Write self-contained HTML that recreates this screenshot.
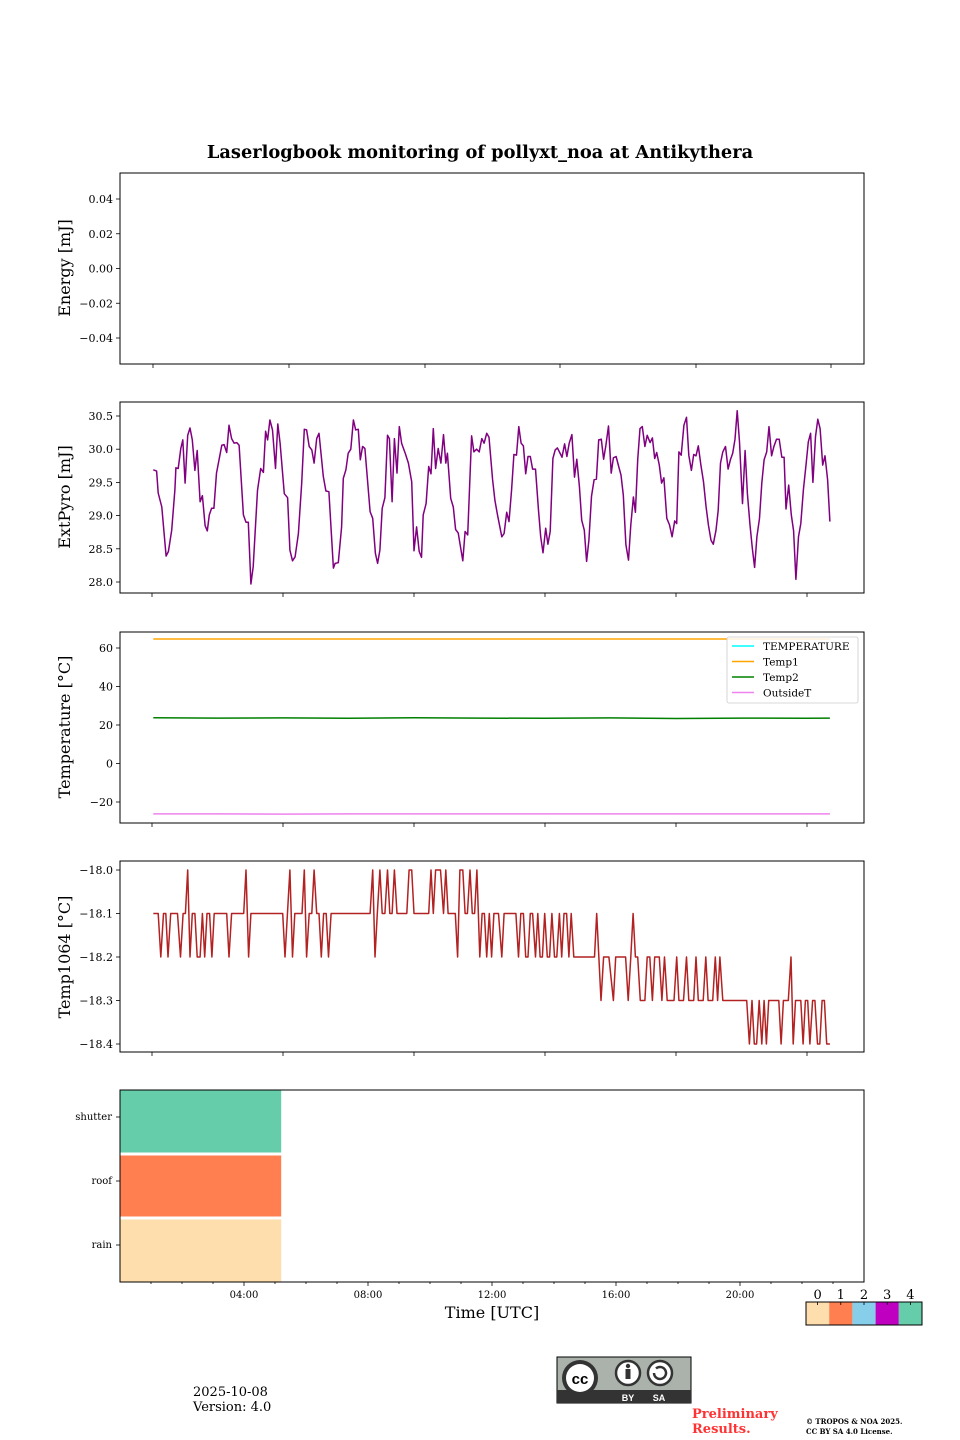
<!DOCTYPE html>
<html><head><meta charset="utf-8">
<style>
html,body{margin:0;padding:0;background:#fff;}
svg{display:block;font-family:"DejaVu Serif","Liberation Serif",serif;}
</style></head>
<body>
<svg id="fig" width="960" height="1440" viewBox="0 0 960 1440" xmlns="http://www.w3.org/2000/svg">
<text x="480" y="158" text-anchor="middle" font-size="17.8" font-weight="bold">Laserlogbook monitoring of pollyxt_noa at Antikythera</text>
<g id="p1"></g>
<g id="p2"></g>
<g id="p3"></g>
<g id="p4"></g>
<g id="p5"></g>
<g id="cbar"></g>
<text x="193" y="1396" font-size="13">2025-10-08</text>
<text x="193" y="1411" font-size="13">Version: 4.0</text>
<g>
<rect x="557" y="1357" width="134" height="46" fill="#aab2ab"/>
<rect x="557" y="1357" width="134" height="46" fill="none" stroke="#000" stroke-width="1"/>
<rect x="557" y="1390" width="134" height="13" fill="#333"/>
<circle cx="580" cy="1378" r="18" fill="#333"/>
<circle cx="580" cy="1378" r="14" fill="#fff"/>
<text x="580" y="1384" text-anchor="middle" font-family="Liberation Sans,sans-serif" font-weight="bold" font-size="15">cc</text>
<circle cx="628" cy="1373" r="12" fill="#fff" stroke="#333" stroke-width="2.5"/>
<circle cx="628" cy="1366" r="2.2" fill="#333"/>
<rect x="625.5" y="1369" width="5" height="10" fill="#333"/>
<circle cx="660" cy="1373" r="12" fill="#fff" stroke="#333" stroke-width="2.5"/>
<path d="M654 1373 a6 6 0 1 0 2 -4.5" fill="none" stroke="#333" stroke-width="2.5"/>
<text x="628" y="1401" text-anchor="middle" font-family="Liberation Sans,sans-serif" font-weight="bold" font-size="9" fill="#fff">BY</text>
<text x="659" y="1401" text-anchor="middle" font-family="Liberation Sans,sans-serif" font-weight="bold" font-size="9" fill="#fff">SA</text>
</g>
<text x="692" y="1418" font-size="13" font-weight="bold" fill="#ff3333">Preliminary</text>
<text x="692" y="1433" font-size="13" font-weight="bold" fill="#ff3333">Results.</text>
<text x="806" y="1424" font-size="7" font-weight="bold">© TROPOS &amp; NOA 2025.</text>
<text x="806" y="1434" font-size="7" font-weight="bold">CC BY SA 4.0 License.</text>
</svg>
<script>
// ---------- data ----------
const pyroT = [0.04,0.14,0.19,0.30,0.43,0.50,0.60,0.70,0.73,0.80,0.88,0.94,1.01,1.09,1.16,1.23,1.31,1.38,1.47,1.54,1.62,1.69,1.75,1.82,1.89,1.97,2.13,2.20,2.28,2.35,2.43,2.51,2.59,2.66,2.79,2.87,2.94,3.02,3.09,3.22,3.32,3.40,3.47,3.53,3.60,3.68,3.77,3.84,3.91,4.04,4.14,4.21,4.29,4.37,4.47,4.57,4.65,4.72,4.80,4.88,4.95,5.03,5.10,5.23,5.31,5.40,5.54,5.59,5.69,5.79,5.84,5.92,5.99,6.07,6.15,6.22,6.30,6.36,6.43,6.50,6.66,6.74,6.82,6.89,6.96,7.03,7.11,7.19,7.25,7.33,7.40,7.48,7.55,7.62,7.73,7.83,7.93,8.00,8.08,8.16,8.23,8.28,8.37,8.45,8.52,8.59,8.66,8.74,8.82,8.90,8.97,9.02,9.12,9.20,9.27,9.35,9.49,9.56,9.64,9.76,9.83,9.91,9.99,10.07,10.14,10.22,10.29,10.40,10.47,10.55,10.68,10.75,10.83,10.90,10.98,11.05,11.13,11.20,11.27,11.34,11.41,11.48,11.55,11.62,11.71,11.80,11.87,11.94,12.02,12.09,12.16,12.24,12.31,12.38,12.45,12.52,12.60,12.67,12.74,12.82,12.90,12.97,13.05,13.12,13.20,13.27,13.34,13.42,13.50,13.57,13.64,13.72,13.79,13.86,13.94,14.02,14.09,14.17,14.25,14.32,14.39,14.47,14.55,14.62,14.70,14.76,14.83,14.90,14.97,15.05,15.12,15.21,15.28,15.35,15.41,15.49,15.56,15.63,15.72,15.80,15.88,15.96,16.02,16.09,16.16,16.24,16.32,16.39,16.47,16.54,16.61,16.68,16.76,16.84,16.92,16.99,17.07,17.14,17.22,17.29,17.36,17.43,17.51,17.59,17.66,17.73,17.80,17.87,17.94,18.03,18.11,18.18,18.26,18.33,18.40,18.47,18.55,18.62,18.69,18.77,18.84,18.92,18.99,19.07,19.15,19.23,19.30,19.36,19.44,19.52,19.59,19.66,19.74,19.81,19.89,19.97,20.04,20.11,20.18,20.26,20.33,20.40,20.48,20.55,20.63,20.70];
const pyroV = [29.69,29.67,29.34,29.13,28.39,28.46,28.78,29.39,29.72,29.71,30.01,30.14,29.49,30.21,30.32,30.14,29.68,29.98,29.21,29.30,28.85,28.77,29.01,29.11,29.11,29.64,30.06,30.07,29.95,30.36,30.16,30.09,30.10,30.06,29.01,28.90,28.90,27.97,28.23,29.38,29.71,29.65,30.27,30.14,30.44,30.29,29.71,30.38,30.09,29.33,29.27,28.48,28.32,28.38,28.73,29.49,30.30,30.29,30.04,29.99,29.79,30.16,30.24,29.59,29.37,29.36,28.21,28.28,28.29,28.83,29.56,29.69,29.94,30.00,30.44,30.29,30.30,29.84,30.04,30.01,29.06,28.96,28.43,28.28,28.48,29.11,29.27,30.21,30.16,29.21,30.16,29.64,30.34,30.09,29.94,29.79,29.51,28.47,28.83,28.46,28.37,29.01,29.18,29.74,29.63,30.31,29.71,30.01,29.79,30.22,29.79,29.94,29.26,29.13,28.79,28.74,28.32,28.76,28.71,30.20,29.96,30.00,29.96,30.16,30.09,30.24,30.18,29.54,29.23,29.01,28.68,28.73,29.05,28.91,29.39,29.92,29.91,30.34,30.09,30.05,29.63,29.89,29.89,29.70,29.70,29.08,28.68,28.44,28.81,28.57,28.76,29.86,29.99,30.02,29.95,29.88,30.08,29.89,30.09,30.22,29.58,29.85,29.44,28.93,28.78,28.31,28.63,29.29,29.54,29.55,30.14,30.15,29.85,30.06,30.35,29.64,29.87,29.89,29.74,29.61,29.31,28.56,28.33,28.86,29.28,29.05,29.84,30.31,30.34,30.04,30.21,30.10,30.17,29.86,29.95,29.76,29.49,29.57,28.96,28.86,28.68,28.92,28.88,29.96,29.91,30.36,30.48,29.91,29.68,29.92,29.90,30.05,29.76,29.51,29.13,28.86,28.63,28.57,28.78,29.08,29.79,29.96,30.04,29.70,29.84,29.94,30.15,30.58,30.11,29.18,29.98,29.33,28.86,28.51,28.22,28.68,28.96,29.49,29.84,29.96,30.34,29.90,30.04,30.15,30.15,29.88,29.88,29.10,29.46,29.01,28.77,28.04,28.68,28.88,29.39,29.76,30.11,30.24,29.50,30.19,30.45,30.31,29.76,29.90,29.54,28.91];

const t1064T = [0.04,0.19,0.27,0.35,0.42,0.49,0.57,0.78,0.87,0.95,1.02,1.09,1.16,1.23,1.31,1.38,1.47,1.54,1.61,1.68,1.76,1.83,1.90,2.28,2.35,2.43,2.80,2.87,2.95,3.02,3.99,4.06,4.21,4.29,4.36,4.58,4.65,4.72,4.80,4.88,4.95,5.03,5.10,5.17,5.24,5.32,5.39,5.47,6.66,6.74,6.81,6.88,6.96,7.03,7.11,7.19,7.26,7.33,7.40,7.48,7.78,7.85,7.93,8.00,8.45,8.52,8.59,8.66,8.81,8.90,8.97,9.04,9.26,9.33,9.40,9.49,9.56,9.63,9.71,9.78,9.85,9.92,10.01,10.08,10.15,10.22,10.30,10.37,10.44,10.58,10.68,10.75,10.98,11.11,11.19,11.26,11.34,11.41,11.48,11.55,11.62,11.71,11.78,11.85,11.92,11.99,12.07,12.14,12.21,12.29,12.36,12.44,12.51,12.58,12.66,12.73,12.80,12.88,12.92,13.51,13.58,13.71,13.79,13.95,14.09,14.16,14.23,14.39,14.46,14.54,14.62,14.69,14.76,14.83,14.91,15.05,15.12,15.20,15.28,15.35,15.49,15.57,15.65,15.73,15.80,15.94,16.02,16.09,16.23,16.32,16.39,16.54,16.61,16.68,16.83,16.91,16.98,17.12,17.20,17.27,17.34,17.43,18.16,18.24,18.32,18.39,18.46,18.54,18.62,18.69,18.76,18.83,19.14,19.21,19.28,19.43,19.51,19.58,19.65,19.81,19.88,19.95,20.02,20.09,20.17,20.24,20.32,20.39,20.46,20.53,20.60,20.70];
const t1064V = [-18.1,-18.1,-18.2,-18.1,-18.1,-18.2,-18.1,-18.1,-18.2,-18.1,-18.1,-18.0,-18.2,-18.1,-18.1,-18.2,-18.2,-18.1,-18.2,-18.1,-18.1,-18.2,-18.1,-18.1,-18.2,-18.1,-18.1,-18.0,-18.2,-18.1,-18.1,-18.2,-18.0,-18.2,-18.1,-18.1,-18.0,-18.2,-18.1,-18.1,-18.0,-18.1,-18.1,-18.2,-18.1,-18.1,-18.2,-18.1,-18.1,-18.0,-18.2,-18.1,-18.0,-18.1,-18.1,-18.0,-18.1,-18.1,-18.0,-18.1,-18.1,-18.0,-18.0,-18.1,-18.1,-18.0,-18.1,-18.0,-18.0,-18.1,-18.0,-18.1,-18.1,-18.2,-18.0,-18.0,-18.1,-18.1,-18.0,-18.1,-18.1,-18.0,-18.2,-18.1,-18.1,-18.2,-18.1,-18.2,-18.1,-18.1,-18.2,-18.1,-18.1,-18.1,-18.2,-18.1,-18.1,-18.2,-18.2,-18.1,-18.1,-18.2,-18.1,-18.2,-18.2,-18.1,-18.2,-18.2,-18.1,-18.2,-18.2,-18.1,-18.2,-18.1,-18.1,-18.2,-18.1,-18.2,-18.2,-18.2,-18.1,-18.3,-18.2,-18.2,-18.3,-18.2,-18.2,-18.2,-18.2,-18.3,-18.2,-18.1,-18.2,-18.2,-18.3,-18.3,-18.2,-18.2,-18.3,-18.2,-18.2,-18.3,-18.2,-18.3,-18.3,-18.3,-18.2,-18.3,-18.3,-18.2,-18.3,-18.3,-18.2,-18.3,-18.3,-18.2,-18.3,-18.3,-18.2,-18.3,-18.2,-18.3,-18.3,-18.4,-18.3,-18.4,-18.4,-18.3,-18.4,-18.3,-18.4,-18.3,-18.3,-18.4,-18.3,-18.3,-18.2,-18.4,-18.3,-18.3,-18.4,-18.3,-18.3,-18.4,-18.3,-18.3,-18.4,-18.4,-18.3,-18.3,-18.4,-18.4];

const tempT = [0.04,2,4,6,8,10,12,14,16,18,20,20.7];
const temp1V = [64.7,64.7,64.7,64.7,64.7,64.7,64.7,64.7,64.7,64.7,64.7,64.7];
const temp2V = [23.8,23.6,23.7,23.5,23.8,23.6,23.5,23.7,23.4,23.6,23.5,23.6];
const outsideV = [-26.2,-26.2,-26.3,-26.2,-26.2,-26.2,-26.2,-26.2,-26.2,-26.2,-26.2,-26.2];

const statusRows = ['rain','roof','shutter'];
const statusStart = [0,0,0];
const statusEnd = [5.2,5.2,5.2];
const statusVal = [0,1,4];
const statusColors = ['#ffdead','#ff7f50','#87ceeb','#c000c0','#66cdaa'];
const statusLabels = ['0','1','2','3','4'];

const energyTicks = [0.04,0.02,0.00,-0.02,-0.04];
const pyroTicks = [30.5,30.0,29.5,29.0,28.5,28.0];
const tempTicks = [60,40,20,0,-20];
const t1064Ticks = [-18.0,-18.1,-18.2,-18.3,-18.4];
const hourTicks = [4,8,12,16,20];
const hourTickLabels = ['04:00','08:00','12:00','16:00','20:00'];

// ---------- helpers ----------
const NS='http://www.w3.org/2000/svg';
function mk(parent,tag,attrs){const e=document.createElementNS(NS,tag);for(const k in attrs)e.setAttribute(k,attrs[k]);parent.appendChild(e);return e;}
const L=120,R=864;
function lin(d0,d1,r0,r1){return v=>r0+(v-d0)*(r1-r0)/(d1-d0);}
const xData = lin(0,1,152,152+32.75);
const xStatus = lin(0,24,120,864);

function frame(g,top,bot,name){
  const r=mk(g,'rect',{x:L,y:top,width:R-L,height:bot-top,fill:'none',stroke:'#000','stroke-width':1});
  
  
}
function yTicks(g,ticks,ys,fmt,name){
  ticks.forEach(t=>{
    const y=ys(t);
    mk(g,'line',{x1:L-4,x2:L,y1:y,y2:y,stroke:'#000','stroke-width':0.8});
    const tx=mk(g,'text',{x:L-7,y:y+4,'text-anchor':'end','font-size':11});
    tx.textContent=fmt(t);
    
    
  });
}
function xTicksBlank(g,bot,xs){xs.forEach(x=>mk(g,'line',{x1:x,x2:x,y1:bot,y2:bot+4,stroke:'#000','stroke-width':0.8}));}
function yLabel(g,text,cy,name){
  const t=mk(g,'text',{x:0,y:0,transform:`translate(70,${cy}) rotate(-90)`,'text-anchor':'middle','font-size':16});
  t.textContent=text;
  
  
}
function line(g,ts,vs,xs,ys,color,name,w){
  const d=ts.map((t,i)=>(i?'L':'M')+xs(t).toFixed(1)+' '+ys(vs[i]).toFixed(1)).join(' ');
  const p=mk(g,'path',{d:d,fill:'none',stroke:color,'stroke-width':w||1.5,'stroke-linejoin':'round'});
  
  
}
const dataTickX=[0,4,8,12,16,20].map(xData);

(function(){
  const g=document.getElementById('p1');const top=173,bot=364;
  const ys=lin(0.04,-0.04,199,338);
  frame(g,top,bot,'energy');
  yTicks(g,energyTicks,ys,v=>v.toFixed(2).replace('-','\u2212'),'energy');
  xTicksBlank(g,bot,[153,289,425,560,696,831]);
  yLabel(g,'Energy [mJ]',268,'energy-y-axis-title');
})();

(function(){
  const g=document.getElementById('p2');const top=402,bot=593;
  const ys=lin(30.5,28.0,416,582);
  line(g,pyroT,pyroV,xData,ys,'#800080','extpyro-line',1.5);
  frame(g,top,bot,'extpyro');
  yTicks(g,pyroTicks,ys,v=>v.toFixed(1),'extpyro');
  xTicksBlank(g,bot,dataTickX);
  yLabel(g,'ExtPyro [mJ]',497,'extpyro-y-axis-title');
})();

(function(){
  const g=document.getElementById('p3');const top=632,bot=823;
  const ys=lin(60,-20,648,802);
  line(g,tempT,temp1V,xData,ys,'#ffa500','temp1-line',1.5);
  line(g,tempT,temp2V,xData,ys,'#008000','temp2-line',1.5);
  line(g,tempT,outsideV,xData,ys,'#ee82ee','outside-temp-line',1.5);
  frame(g,top,bot,'temperature');
  yTicks(g,tempTicks,ys,v=>String(v).replace('-','\u2212'),'temperature');
  xTicksBlank(g,bot,dataTickX);
  yLabel(g,'Temperature [°C]',727,'temperature-y-axis-title');
  const lg=mk(g,'g',{});
  
  
  mk(lg,'rect',{x:727,y:637,width:131,height:66,rx:2,fill:'#fff','fill-opacity':0.85,stroke:'#ccc','stroke-width':0.8});
  const items=[['TEMPERATURE','#00ffff'],['Temp1','#ffa500'],['Temp2','#008000'],['OutsideT','#ee82ee']];
  items.forEach((it,i)=>{
    const y=646+i*15.5;
    const e=mk(lg,'g',{});
    
    
    mk(e,'line',{x1:732,x2:754,y1:y,y2:y,stroke:it[1],'stroke-width':1.5});
    const t=mk(e,'text',{x:763,y:y+4,'font-size':10.5});t.textContent=it[0];
  });
})();

(function(){
  const g=document.getElementById('p4');const top=861,bot=1052;
  const ys=lin(-18.0,-18.4,870,1044);
  line(g,t1064T,t1064V,xData,ys,'#b22222','temp1064-line',1.5);
  frame(g,top,bot,'temp1064');
  yTicks(g,t1064Ticks,ys,v=>v.toFixed(1).replace('-','\u2212'),'temp1064');
  xTicksBlank(g,bot,dataTickX);
  yLabel(g,'Temp1064 [°C]',957,'temp1064-y-axis-title');
})();

(function(){
  const g=document.getElementById('p5');const top=1090,bot=1282;
  const rowH=(bot-top)/statusRows.length;
  statusRows.forEach((name,i)=>{
    const y0=bot-(i+1)*rowH;
    const x0=xStatus(statusStart[i]),x1=xStatus(statusEnd[i]);
    const r=mk(g,'rect',{x:x0,y:y0+(i<2?1.5:0),width:x1-x0,height:rowH-(i<2?1.5:0)-(i>0?1.5:0),fill:statusColors[statusVal[i]]});
    
    
    const cy=y0+rowH/2-5;
    mk(g,'line',{x1:L-4,x2:L,y1:cy,y2:cy,stroke:'#000','stroke-width':0.8});
    const t=mk(g,'text',{x:L-8,y:cy+3,'text-anchor':'end','font-size':10});
    t.textContent=name;
    
    
  });
  frame(g,top,bot,'status');
  for(let h=1;h<24;h++){const x=xStatus(h);mk(g,'line',{x1:x,x2:x,y1:bot,y2:bot+(h%4===0?4:2),stroke:'#000','stroke-width':0.8});}
  hourTicks.forEach((h,i)=>{
    const t=mk(g,'text',{x:xStatus(h),y:bot+16,'text-anchor':'middle','font-size':10});
    t.textContent=hourTickLabels[i];
    
    
  });
  const xt=mk(g,'text',{x:492,y:1318,'text-anchor':'middle','font-size':16});
  xt.textContent='Time [UTC]';
  
  
})();

(function(){
  const g=document.getElementById('cbar');
  const x0=806,w=116/statusColors.length,y=1302,h=23;
  statusColors.forEach((c,i)=>{
    const r=mk(g,'rect',{x:x0+i*w,y:y,width:w,height:h,fill:c});
    
    
    const cx=x0+(i+0.5)*w;
    mk(g,'line',{x1:cx,x2:cx,y1:y,y2:y+3,stroke:'#000','stroke-width':0.8});
    const t=mk(g,'text',{x:cx,y:y-3,'text-anchor':'middle','font-size':13});
    t.textContent=statusLabels[i];
    
    
  });
  mk(g,'rect',{x:x0,y:y,width:116,height:h,fill:'none',stroke:'#000','stroke-width':1});
})();
</script>
</body></html>
